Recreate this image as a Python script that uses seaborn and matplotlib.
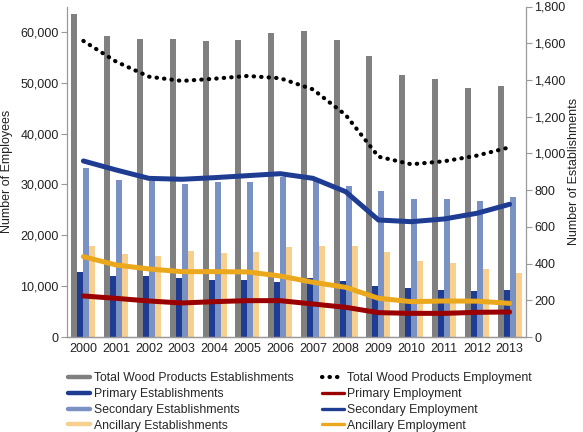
import matplotlib
matplotlib.use("Agg")
import matplotlib.pyplot as plt
import matplotlib.ticker as mticker
from matplotlib.lines import Line2D
import numpy as np
import pandas as pd
import seaborn as sns

years = [str(y) for y in range(2000, 2014)]

total_est = [1758, 1642, 1624, 1624, 1611, 1616, 1654, 1664, 1618, 1533, 1427, 1407, 1358, 1369]
primary_est = [353, 333, 331, 322, 313, 309, 302, 320, 304, 278, 266, 256, 253, 256]
secondary_est = [920, 856, 847, 835, 842, 845, 869, 862, 824, 796, 751, 751, 740, 765]
ancillary_est = [493, 453, 442, 467, 458, 462, 491, 493, 493, 462, 415, 404, 371, 351]

total_emp = [58230, 54150, 51200, 50360, 50800, 51340, 50900, 48700, 43670, 35470, 33970, 34560, 35670, 37310]
primary_emp = [8070, 7600, 7080, 6690, 6950, 7150, 7150, 6490, 5840, 4790, 4650, 4650, 4850, 4920]
secondary_emp = [34620, 32850, 31200, 31020, 31340, 31730, 32120, 31210, 28580, 23010, 22680, 23210, 24330, 26100]
ancillary_emp = [15800, 14160, 13380, 12850, 12850, 12800, 12000, 10760, 9770, 7610, 6950, 7080, 7050, 6620]

bar_names = ["Total Wood Products Establishments", "Primary Establishments",
             "Secondary Establishments", "Ancillary Establishments"]
line_names = ["Total Wood Products Employment", "Primary Employment",
              "Secondary Employment", "Ancillary Employment"]

bar_colors = ["#808080", "#1F3C93", "#7A91C4", "#F7CF8E"]
line_colors = ["#000000", "#9B0000", "#1F3C93", "#EBA81C"]

sns.set_theme(style="white")
plt.rcParams["font.family"] = ["Liberation Sans", "DejaVu Sans"]

bars_df = pd.DataFrame({
    "Year": years * 4,
    "Value": total_est + primary_est + secondary_est + ancillary_est,
    "Series": sum([[n] * len(years) for n in bar_names], []),
})

fig = plt.figure(figsize=(5.83, 4.32), dpi=100)
ax = fig.add_axes([67 / 583, 1 - 337 / 432, (526 - 67) / 583, (337 - 6.5) / 432])
ax2 = ax.twinx()

sns.barplot(data=bars_df, x="Year", y="Value", hue="Series", hue_order=bar_names,
            palette=bar_colors, width=0.73, dodge=True, ax=ax2, legend=False,
            edgecolor="none", saturation=1)

for vals, col, name in zip([total_emp, primary_emp, secondary_emp, ancillary_emp],
                           line_colors, line_names):
    if name.startswith("Total"):
        sns.lineplot(x=years, y=vals, ax=ax, color=col, linewidth=3.0,
                     linestyle=(0, (0.1, 1.7)), dash_capstyle="round", sort=False)
    else:
        sns.lineplot(x=years, y=vals, ax=ax, color=col, linewidth=3.6,
                     solid_capstyle="round", sort=False)

ax.set_zorder(ax2.get_zorder() + 1)
ax.patch.set_visible(False)

ax.set_xlim(-0.5, len(years) - 0.5)
ax.set_ylim(0, 65000)
ax2.set_ylim(0, 1800)
ax.set_yticks(np.arange(0, 60001, 10000))
ax2.set_yticks(np.arange(0, 1801, 200))
ax.yaxis.set_major_formatter(mticker.FuncFormatter(lambda v, p: f"{int(v):,}"))
ax2.yaxis.set_major_formatter(mticker.FuncFormatter(lambda v, p: f"{int(v):,}"))

fs = 9
ax.set_xticks(range(len(years)))
ax.set_xticklabels(years)
ax.set_xticks(np.arange(-0.5, len(years), 1), minor=True)
ax.tick_params(axis="x", which="major", length=0, labelsize=fs, pad=4, colors="#222222")
ax.tick_params(axis="x", which="minor", length=4, width=0.8, color="#999999", direction="out")
ax.tick_params(axis="y", which="major", length=4, width=0.8, color="#999999",
               labelsize=fs, direction="out", pad=2, labelcolor="#222222")
ax2.tick_params(axis="y", which="major", length=4, width=0.8, color="#999999",
                labelsize=fs, direction="out", pad=2, labelcolor="#222222")
ax.tick_params(axis="y", left=True)
ax2.tick_params(axis="y", right=True)
ax2.set_xlabel("")
ax.set_xlabel("")

ax.set_ylabel("Number of Employees", fontsize=fs, color="#222222", labelpad=5)
ax2.set_ylabel("Number of Establishments", fontsize=fs, color="#222222", labelpad=2)

for a in (ax, ax2):
    a.spines["top"].set_visible(False)
    for s in ("left", "right", "bottom"):
        a.spines[s].set_color("#999999")
        a.spines[s].set_linewidth(0.9)
ax.spines["right"].set_visible(False)
ax2.spines["left"].set_visible(False)

handles = [Line2D([0], [0], color=c, lw=3.2) for c in bar_colors]
handles += [Line2D([0], [0], color="black", lw=3.0, linestyle=(0, (0.1, 1.7)),
                   dash_capstyle="round")]
handles += [Line2D([0], [0], color=c, lw=2.4) for c in line_colors[1:]]
fig.legend(handles, bar_names + line_names, ncol=2, loc="upper left",
           bbox_to_anchor=(68 / 583, 1 - 372 / 432), frameon=False, fontsize=8.8,
           handlelength=1.8, handletextpad=0.3, columnspacing=2.3,
           labelspacing=0.32, borderpad=0, borderaxespad=0)

fig.savefig("out.png", dpi=100)
